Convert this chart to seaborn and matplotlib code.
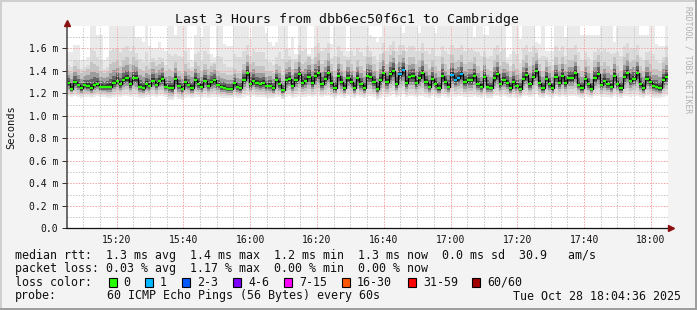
import numpy as np
import pandas as pd
import matplotlib
matplotlib.use("Agg")
import matplotlib.pyplot as plt
import matplotlib.dates as mdates
from matplotlib.patches import Rectangle
from matplotlib.lines import Line2D
import seaborn as sns

sns.set_style("white")
plt.rcParams["font.family"] = ["DejaVu Sans Mono"]

# ---------------- data ----------------
title = "Last 3 Hours from dbb6ec50f6c1 to Cambridge"
y_label = "Seconds"
start_time = "2025-10-28 15:05:08"
end_time = "2025-10-28 18:05:08"
y_ticks = [0.0, 0.2, 0.4, 0.6, 0.8, 1.0, 1.2, 1.4, 1.6]

# median rtt (ms), one value per step
median_ms = [
    1.293, 1.239, 1.299, 1.275, 1.245, 1.275, 1.263, 1.245, 1.275, 1.281, 1.257, 1.257, 1.257, 1.257, 1.287, 1.313,
    1.281, 1.319, 1.334, 1.281, 1.334, 1.334, 1.257, 1.245, 1.281, 1.269, 1.310, 1.275, 1.310, 1.328, 1.260,
    1.251, 1.245, 1.328, 1.269, 1.239, 1.299, 1.275, 1.245, 1.322, 1.281, 1.257, 1.310, 1.269, 1.299, 1.316, 1.275,
    1.257, 1.251, 1.239, 1.239, 1.290, 1.257, 1.245, 1.322, 1.382, 1.281, 1.310, 1.293, 1.281, 1.293, 1.263,
    1.269, 1.245, 1.322, 1.281, 1.227, 1.316, 1.328, 1.269, 1.322, 1.370, 1.293, 1.310, 1.346, 1.287, 1.358, 1.382,
    1.281, 1.328, 1.382, 1.287, 1.245, 1.358, 1.299, 1.245, 1.334, 1.304, 1.245, 1.334, 1.281, 1.245, 1.352,
    1.349, 1.299, 1.239, 1.316, 1.382, 1.299, 1.370, 1.400, 1.281, 1.368, 1.406, 1.293, 1.346, 1.352, 1.293, 1.334,
    1.382, 1.299, 1.257, 1.328, 1.281, 1.245, 1.352, 1.299, 1.257, 1.365, 1.320, 1.335, 1.368, 1.299, 1.316,
    1.316, 1.352, 1.281, 1.257, 1.346, 1.257, 1.251, 1.334, 1.370, 1.281, 1.322, 1.293, 1.245, 1.299, 1.263, 1.239,
    1.328, 1.364, 1.281, 1.346, 1.400, 1.293, 1.245, 1.328, 1.281, 1.245, 1.346, 1.293, 1.352, 1.293, 1.334,
    1.334, 1.382, 1.275, 1.245, 1.328, 1.281, 1.239, 1.334, 1.370, 1.275, 1.310, 1.281, 1.257, 1.358, 1.281, 1.245,
    1.346, 1.382, 1.310, 1.328, 1.382, 1.281, 1.245, 1.328, 1.299, 1.263, 1.257, 1.245, 1.316, 1.346,
]

# top of the smoke (slowest ping, ms); values above the plot are clipped
smoke_max_ms = [
    1.57, 1.57, 1.63, 1.63, 1.50, 1.50, 1.52, 1.85, 1.85, 1.72, 1.72, 1.50, 1.52, 1.85, 1.85, 1.85,
    1.85, 1.85, 1.85, 1.85, 1.85, 1.70, 1.70, 1.66, 1.85, 1.62, 1.60, 1.60, 1.66, 1.60, 1.58,
    1.85, 1.85, 1.72, 1.85, 1.85, 1.85, 1.60, 1.50, 1.72, 1.85, 1.70, 1.85, 1.85, 1.55, 1.52, 1.85,
    1.85, 1.64, 1.62, 1.62, 1.85, 1.85, 1.85, 1.85, 1.85, 1.70, 1.85, 1.85, 1.85, 1.85, 1.74,
    1.66, 1.62, 1.66, 1.85, 1.85, 1.85, 1.60, 1.70, 1.55, 1.85, 1.85, 1.85, 1.55, 1.60, 1.85, 1.85,
    1.85, 1.85, 1.85, 1.64, 1.85, 1.85, 1.85, 1.85, 1.58, 1.85, 1.85, 1.85, 1.85, 1.85, 1.85,
    1.72, 1.70, 1.66, 1.70, 1.85, 1.85, 1.85, 1.85, 1.85, 1.85, 1.74, 1.85, 1.85, 1.85, 1.85, 1.74,
    1.85, 1.85, 1.85, 1.85, 1.74, 1.85, 1.85, 1.85, 1.85, 1.85, 1.85, 1.85, 1.85, 1.85, 1.85,
    1.85, 1.70, 1.85, 1.85, 1.72, 1.72, 1.85, 1.85, 1.85, 1.85, 1.85, 1.52, 1.55, 1.85, 1.85, 1.68,
    1.85, 1.85, 1.85, 1.85, 1.66, 1.64, 1.85, 1.58, 1.58, 1.58, 1.85, 1.85, 1.85, 1.70, 1.85,
    1.85, 1.85, 1.85, 1.72, 1.72, 1.72, 1.72, 1.72, 1.72, 1.85, 1.85, 1.85, 1.85, 1.66, 1.85, 1.85,
    1.85, 1.85, 1.85, 1.85, 1.85, 1.72, 1.72, 1.72, 1.85, 1.85, 1.64, 1.62, 1.62, 1.85,
]

# top of the dense (dark) part of the smoke, ms
smoke_hi_ms = [
    1.40, 1.38, 1.44, 1.42, 1.38, 1.40, 1.42, 1.48, 1.46, 1.44, 1.40, 1.38, 1.40, 1.46, 1.48, 1.50,
    1.44, 1.50, 1.52, 1.46, 1.52, 1.50, 1.42, 1.40, 1.44, 1.42, 1.48, 1.44, 1.46, 1.48, 1.40,
    1.42, 1.40, 1.48, 1.40, 1.38, 1.46, 1.42, 1.40, 1.48, 1.44, 1.40, 1.46, 1.42, 1.44, 1.46, 1.40,
    1.38, 1.38, 1.36, 1.36, 1.42, 1.38, 1.38, 1.46, 1.54, 1.46, 1.48, 1.44, 1.44, 1.44, 1.40,
    1.40, 1.38, 1.46, 1.44, 1.36, 1.48, 1.50, 1.42, 1.48, 1.54, 1.46, 1.48, 1.52, 1.46, 1.52, 1.56,
    1.46, 1.50, 1.56, 1.46, 1.40, 1.52, 1.46, 1.40, 1.50, 1.46, 1.40, 1.50, 1.44, 1.40, 1.52,
    1.52, 1.46, 1.40, 1.48, 1.56, 1.46, 1.54, 1.58, 1.46, 1.54, 1.58, 1.46, 1.52, 1.52, 1.46, 1.50,
    1.56, 1.46, 1.42, 1.50, 1.44, 1.40, 1.52, 1.46, 1.42, 1.54, 1.48, 1.50, 1.54, 1.46, 1.48,
    1.48, 1.52, 1.44, 1.40, 1.52, 1.42, 1.40, 1.50, 1.54, 1.44, 1.48, 1.46, 1.40, 1.46, 1.42, 1.38,
    1.50, 1.54, 1.44, 1.52, 1.56, 1.46, 1.40, 1.50, 1.44, 1.40, 1.52, 1.46, 1.52, 1.46, 1.50,
    1.50, 1.54, 1.44, 1.40, 1.50, 1.44, 1.38, 1.50, 1.54, 1.44, 1.48, 1.44, 1.42, 1.52, 1.44, 1.40,
    1.52, 1.56, 1.48, 1.50, 1.54, 1.44, 1.40, 1.50, 1.46, 1.42, 1.42, 1.40, 1.48, 1.52,
]

# bottom of the smoke (fastest ping, ms)
smoke_min_ms = [
    1.18, 1.17, 1.18, 1.17, 1.16, 1.17, 1.17, 1.16, 1.17, 1.18, 1.17, 1.17, 1.16, 1.16, 1.17, 1.18,
    1.17, 1.18, 1.18, 1.17, 1.18, 1.17, 1.16, 1.16, 1.17, 1.17, 1.18, 1.17, 1.18, 1.18, 1.17,
    1.14, 1.14, 1.17, 1.15, 1.14, 1.16, 1.17, 1.16, 1.17, 1.17, 1.16, 1.17, 1.16, 1.17, 1.17, 1.17,
    1.16, 1.16, 1.16, 1.16, 1.17, 1.16, 1.16, 1.17, 1.18, 1.17, 1.18, 1.17, 1.17, 1.17, 1.16,
    1.16, 1.16, 1.17, 1.17, 1.15, 1.17, 1.18, 1.16, 1.17, 1.18, 1.17, 1.17, 1.18, 1.17, 1.18, 1.18,
    1.17, 1.18, 1.18, 1.17, 1.16, 1.18, 1.17, 1.16, 1.18, 1.17, 1.16, 1.18, 1.17, 1.16, 1.18,
    1.18, 1.17, 1.14, 1.16, 1.18, 1.17, 1.18, 1.19, 1.17, 1.18, 1.19, 1.17, 1.18, 1.18, 1.17, 1.18,
    1.18, 1.17, 1.16, 1.18, 1.17, 1.16, 1.18, 1.17, 1.16, 1.18, 1.17, 1.18, 1.18, 1.17, 1.17,
    1.17, 1.18, 1.17, 1.16, 1.18, 1.16, 1.16, 1.18, 1.18, 1.17, 1.18, 1.17, 1.16, 1.17, 1.16, 1.16,
    1.18, 1.18, 1.17, 1.18, 1.19, 1.17, 1.16, 1.18, 1.17, 1.16, 1.18, 1.17, 1.18, 1.17, 1.18,
    1.18, 1.18, 1.17, 1.16, 1.18, 1.17, 1.16, 1.18, 1.18, 1.17, 1.17, 1.17, 1.16, 1.18, 1.17, 1.16,
    1.18, 1.18, 1.17, 1.18, 1.18, 1.17, 1.16, 1.18, 1.17, 1.16, 1.16, 1.16, 1.17, 1.18,
]

# steps in which one of the 60 pings was lost (drawn in loss colour "1")
one_lost_steps = [102, 103, 118, 119, 120, 121]

loss_labels = ["0", "1", "2-3", "4-6", "7-15", "16-30", "31-59", "60/60"]
loss_colors = ["#26ff00", "#00b8ff", "#0059ff", "#7e00ff", "#ff00ff", "#ff5500", "#ff0000", "#a10000"]

legend_rtt = "median rtt:  1.3 ms avg  1.4 ms max  1.2 ms min  1.3 ms now  0.0 ms sd  30.9   am/s"
legend_loss = "packet loss: 0.03 % avg  1.17 % max  0.00 % min  0.00 % now"
probe_text = "60 ICMP Echo Pings (56 Bytes) every 60s"
stamp_text = "Tue Oct 28 18:04:36 2025"
credit_text = "RRDTOOL / TOBI OETIKER"

# ---------------- figure ----------------
W, H = 697, 310
BG = "#f3f3f3"
fig = plt.figure(figsize=(W / 100, H / 100), dpi=100, facecolor=BG)


def fx(x):
    return x / W


def fy(y):
    return 1 - y / H


ax_l, ax_r, ax_t, ax_b = 67, 668, 26, 228.3
ax = fig.add_axes([fx(ax_l), fy(ax_b), (ax_r - ax_l) / W, (ax_b - ax_t) / H])
ax.set_facecolor("white")

med = np.array(median_ms)
mx = np.array(smoke_max_ms)
hi = np.array(smoke_hi_ms)
mn = np.array(smoke_min_ms)
n = len(med)
edges = pd.date_range(start_time, end_time, periods=n + 1)
xe = mdates.date2num(edges)


def ext(a):
    return np.append(a, a[-1])


layers = [
    (mn, mx, "#eaeaea"),
    (med - (med - mn) * 0.85, hi + (mx - hi) * 0.30, "#dadada"),
    (med - (med - mn) * 0.65, hi, "#c4c4c4"),
    (med - (med - mn) * 0.45, med + (hi - med) * 0.62, "#9c9c9c"),
    (med - (med - mn) * 0.28, med + (hi - med) * 0.36, "#666666"),
    (med - (med - mn) * 0.14, med + (hi - med) * 0.16, "#343434"),
]
for lo, up, c in layers:
    ax.fill_between(xe, ext(lo), ext(up), step="post", color=c, lw=0, zorder=1)

# black stepped median connector
df = pd.DataFrame({"t": xe, "rtt": ext(med)})
sns.lineplot(data=df, x="t", y="rtt", ax=ax, drawstyle="steps-post", color="black",
             lw=0.9, estimator=None, zorder=3)

seg_colors = [loss_colors[1] if i in one_lost_steps else loss_colors[0] for i in range(n)]
ax.hlines(med, xe[:-1], xe[1:], colors=seg_colors, lw=1.6, zorder=4)

ax.set_xlim(xe[0], xe[-1])
ax.set_ylim(0, 1.798)
ax.set_xlabel("")
ax.set_ylabel("")

# grid
ax.xaxis.set_major_locator(mdates.MinuteLocator(byminute=[0, 20, 40]))
ax.xaxis.set_minor_locator(mdates.MinuteLocator(byminute=range(0, 60, 5)))
ax.xaxis.set_major_formatter(mdates.DateFormatter("%H:%M"))
ax.set_yticks(y_ticks)
ax.set_yticks(np.arange(0.1, 1.8, 0.2), minor=True)
ax.set_yticklabels(["0.0" if v == 0 else f"{v:.1f} m" for v in y_ticks])
ax.set_axisbelow(False)
ax.grid(which="minor", color="#c6c6c6", lw=0.72, linestyle=(0, (1.4, 1.4)), zorder=2)
ax.grid(which="major", color="#f8a4a4", lw=0.72, linestyle=(0, (1.4, 1.4)), zorder=2)

ax.tick_params(axis="y", which="major", length=3.5, width=0.72, color="#333333", pad=3,
               labelsize=7, labelcolor="#111111", left=True)
ax.tick_params(axis="y", which="minor", length=0)
ax.tick_params(axis="x", which="both", length=0, pad=4.5, labelsize=7, labelcolor="#111111")
for s in ax.spines.values():
    s.set_visible(False)

# axis lines with arrows
fig.add_artist(Line2D([fx(ax_l), fx(ax_l)], [fy(ax_b), fy(ax_t - 1)], color="#444444", lw=1.1))
fig.add_artist(Line2D([fx(ax_l - 1), fx(ax_r + 2)], [fy(ax_b), fy(ax_b)], color="#111111", lw=0.9))
fig.add_artist(Line2D([fx(ax_l)], [fy(ax_t - 3)], marker="^", color="#8b1010", markersize=4.5,
                      linestyle="none"))
fig.add_artist(Line2D([fx(ax_r + 3)], [fy(ax_b)], marker=">", color="#8b1010", markersize=4.5,
                      linestyle="none"))

# title and labels
fig.text(0.498, fy(19), title, ha="center", va="center", fontsize=9.5, color="#111111")
fig.text(fx(11), fy(127), y_label, rotation=90, ha="center", va="center", fontsize=7.5, color="#111111")
fig.text(fx(688), fy(6), credit_text, rotation=270, ha="center", va="top", fontsize=5.8, color="#b0b0b0")

# legend
LFS = 8.4
fig.text(fx(15), fy(255), legend_rtt, ha="left", va="center", fontsize=LFS, color="#111111")
fig.text(fx(15), fy(268.5), legend_loss, ha="left", va="center", fontsize=LFS, color="#111111")
fig.text(fx(15), fy(282), "loss color:", ha="left", va="center", fontsize=LFS, color="#111111")
box_x = [109, 145, 182, 233, 284, 342, 408, 472]
text_x = [123, 160, 197, 248, 299, 357, 423, 487]
for bx, tx, lab, col in zip(box_x, text_x, loss_labels, loss_colors):
    fig.add_artist(Rectangle((fx(bx), fy(287)), 8 / W, 9.5 / H, facecolor=col, edgecolor="black",
                             lw=0.8, transform=fig.transFigure))
    fig.text(fx(tx), fy(282), lab, ha="left", va="center", fontsize=LFS, color="#111111")
fig.text(fx(15), fy(296), "probe:", ha="left", va="center", fontsize=LFS, color="#111111")
fig.text(fx(107), fy(296), probe_text, ha="left", va="center", fontsize=LFS, color="#111111")
fig.text(fx(681), fy(296), stamp_text, ha="right", va="center", fontsize=LFS, color="#111111")

# outer 3D frame
fig.add_artist(Rectangle((0, fy(2)), 1, 2 / H, facecolor="#cfcfcf", lw=0, transform=fig.transFigure))
fig.add_artist(Rectangle((0, 0), 2 / W, 1, facecolor="#cfcfcf", lw=0, transform=fig.transFigure))
fig.add_artist(Rectangle((0, 0), 1, 2 / H, facecolor="#9e9e9e", lw=0, transform=fig.transFigure))
fig.add_artist(Rectangle((fx(W - 2), 0), 2 / W, 1, facecolor="#9e9e9e", lw=0, transform=fig.transFigure))

fig.savefig("out.png", dpi=100, facecolor=BG)
